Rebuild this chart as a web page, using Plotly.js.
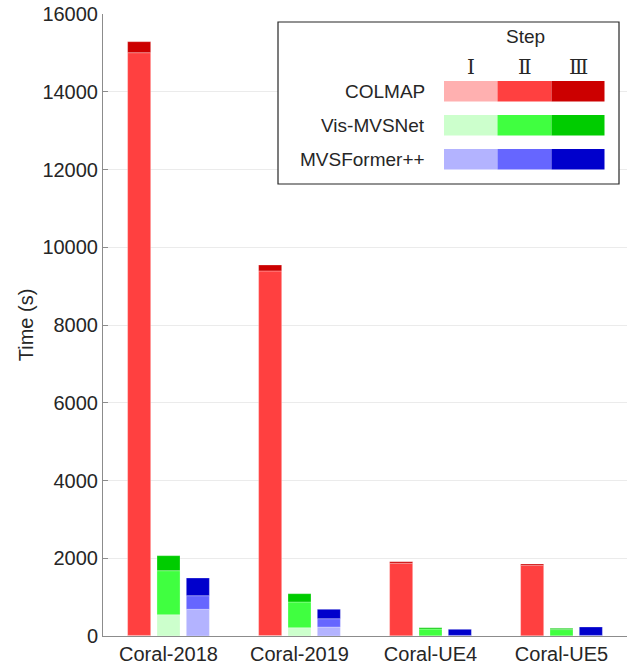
<!DOCTYPE html>
<html>
<head>
<meta charset="utf-8">
<script src="https://cdn.plot.ly/plotly-3.0.1.min.js"></script>
<style>html,body{margin:0;padding:0;background:#fff;}#chart{width:633px;height:668px;}</style>
</head>
<body>
<div id="chart"></div>
<script>
// ---- data ----
var categories = ['Coral-2018', 'Coral-2019', 'Coral-UE4', 'Coral-UE5'];
var methods = ['COLMAP', 'Vis-MVSNet', 'MVSFormer++'];
var steps = ['Ⅰ', 'Ⅱ', 'Ⅲ'];

var colmapI   = [15, 10, 5, 5];
var colmapII  = [14990, 9380, 1866, 1812];
var colmapIII = [283, 154, 40, 35];

var visI   = [548, 213, 5, 5];
var visII  = [1132, 662, 175, 160];
var visIII = [386, 213, 33, 33];

var mvsfI   = [687, 231, 5, 5];
var mvsfII  = [350, 214, 10, 10];
var mvsfIII = [455, 242, 157, 217];

var colmapColors = ['#ffb0b0', '#ff4040', '#cc0000'];
var visColors    = ['#ccffcc', '#40ff40', '#00cc00'];
var mvsfColors   = ['#b3b3ff', '#6666ff', '#0000cc'];

// ---- build traces ----
var seriesSets = [
  {name: methods[0], vals: [colmapI, colmapII, colmapIII], colors: colmapColors},
  {name: methods[1], vals: [visI, visII, visIII], colors: visColors},
  {name: methods[2], vals: [mvsfI, mvsfII, mvsfIII], colors: mvsfColors}
];

var traces = [];
seriesSets.forEach(function (s) {
  var base = categories.map(function () { return 0; });
  s.vals.forEach(function (v, k) {
    traces.push({
      type: 'bar',
      x: categories,
      y: v,
      base: base.slice(),
      offsetgroup: s.name,
      name: s.name + ' ' + steps[k],
      marker: {color: s.colors[k], line: {color: 'rgba(255,255,255,0.35)', width: 0.8}},
      showlegend: false,
      hoverinfo: 'x+y+name'
    });
    base = base.map(function (b, i) { return b + v[i]; });
  });
});

// ---- custom legend (paper coords) ----
var L = 103, R = 627, T = 14, B = 636;
function px(x) { return (x - L) / (R - L); }
function py(y) { return (B - y) / (B - T); }

var shapes = [{
  type: 'rect', xref: 'paper', yref: 'paper',
  x0: px(278), x1: px(619), y0: py(184), y1: py(22),
  line: {color: '#262626', width: 1.2}, fillcolor: '#ffffff', layer: 'above'
}];
var annotations = [{
  xref: 'paper', yref: 'paper', x: px(525), y: py(37), text: 'Step',
  showarrow: false, xanchor: 'center', yanchor: 'middle',
  font: {family: 'Liberation Sans, Arial, sans-serif', size: 19, color: '#262626'}
}];
var colEdges = [444, 497.5, 551.5, 604.5];
var rowTops = [81, 115, 149];
var rowH = 20.5;
steps.forEach(function (st, k) {
  annotations.push({
    xref: 'paper', yref: 'paper', x: px((colEdges[k] + colEdges[k + 1]) / 2), y: py(66.5),
    text: st, showarrow: false, xanchor: 'center', yanchor: 'middle',
    font: {family: 'DejaVu Serif, serif', size: 20, color: '#262626'}
  });
});
seriesSets.forEach(function (s, r) {
  annotations.push({
    xref: 'paper', yref: 'paper', x: px(427), y: py(rowTops[r] + rowH / 2),
    text: s.name, showarrow: false, xanchor: 'right', yanchor: 'middle',
    font: {family: 'Liberation Sans, Arial, sans-serif', size: 19, color: '#262626'}
  });
  s.colors.forEach(function (c, k) {
    shapes.push({
      type: 'rect', xref: 'paper', yref: 'paper',
      x0: px(colEdges[k]), x1: px(colEdges[k + 1]),
      y0: py(rowTops[r] + rowH), y1: py(rowTops[r]),
      line: {width: 0}, fillcolor: c, layer: 'above'
    });
  });
});

var layout = {
  width: 633, height: 668,
  margin: {l: L, r: 633 - R, t: T, b: 668 - B, pad: 0},
  paper_bgcolor: '#ffffff', plot_bgcolor: '#ffffff',
  font: {family: 'Liberation Sans, Arial, sans-serif', size: 20, color: '#262626'},
  barmode: 'group', bargap: 0.328, bargroupgap: 0.214,
  xaxis: {
    type: 'category', range: [-0.5, 3.5], showline: true, linecolor: '#8c8c8c', linewidth: 1,
    ticks: '', showgrid: false, zeroline: false, fixedrange: true,
    tickfont: {size: 20, color: '#262626'}
  },
  yaxis: {
    range: [0, 16000], dtick: 2000, tick0: 0, showline: true, linecolor: '#8c8c8c', linewidth: 1,
    ticks: 'inside', ticklen: 5, tickcolor: '#8c8c8c', showgrid: true, gridcolor: '#ebebeb',
    zeroline: false, tickformat: 'd',
    title: {text: 'Time (s)', font: {size: 20, color: '#262626'}, standoff: 3},
    tickfont: {size: 20, color: '#262626'}
  },
  shapes: shapes,
  annotations: annotations,
  showlegend: false
};

Plotly.newPlot('chart', traces, layout, {displayModeBar: false, staticPlot: true});
</script>
</body>
</html>
